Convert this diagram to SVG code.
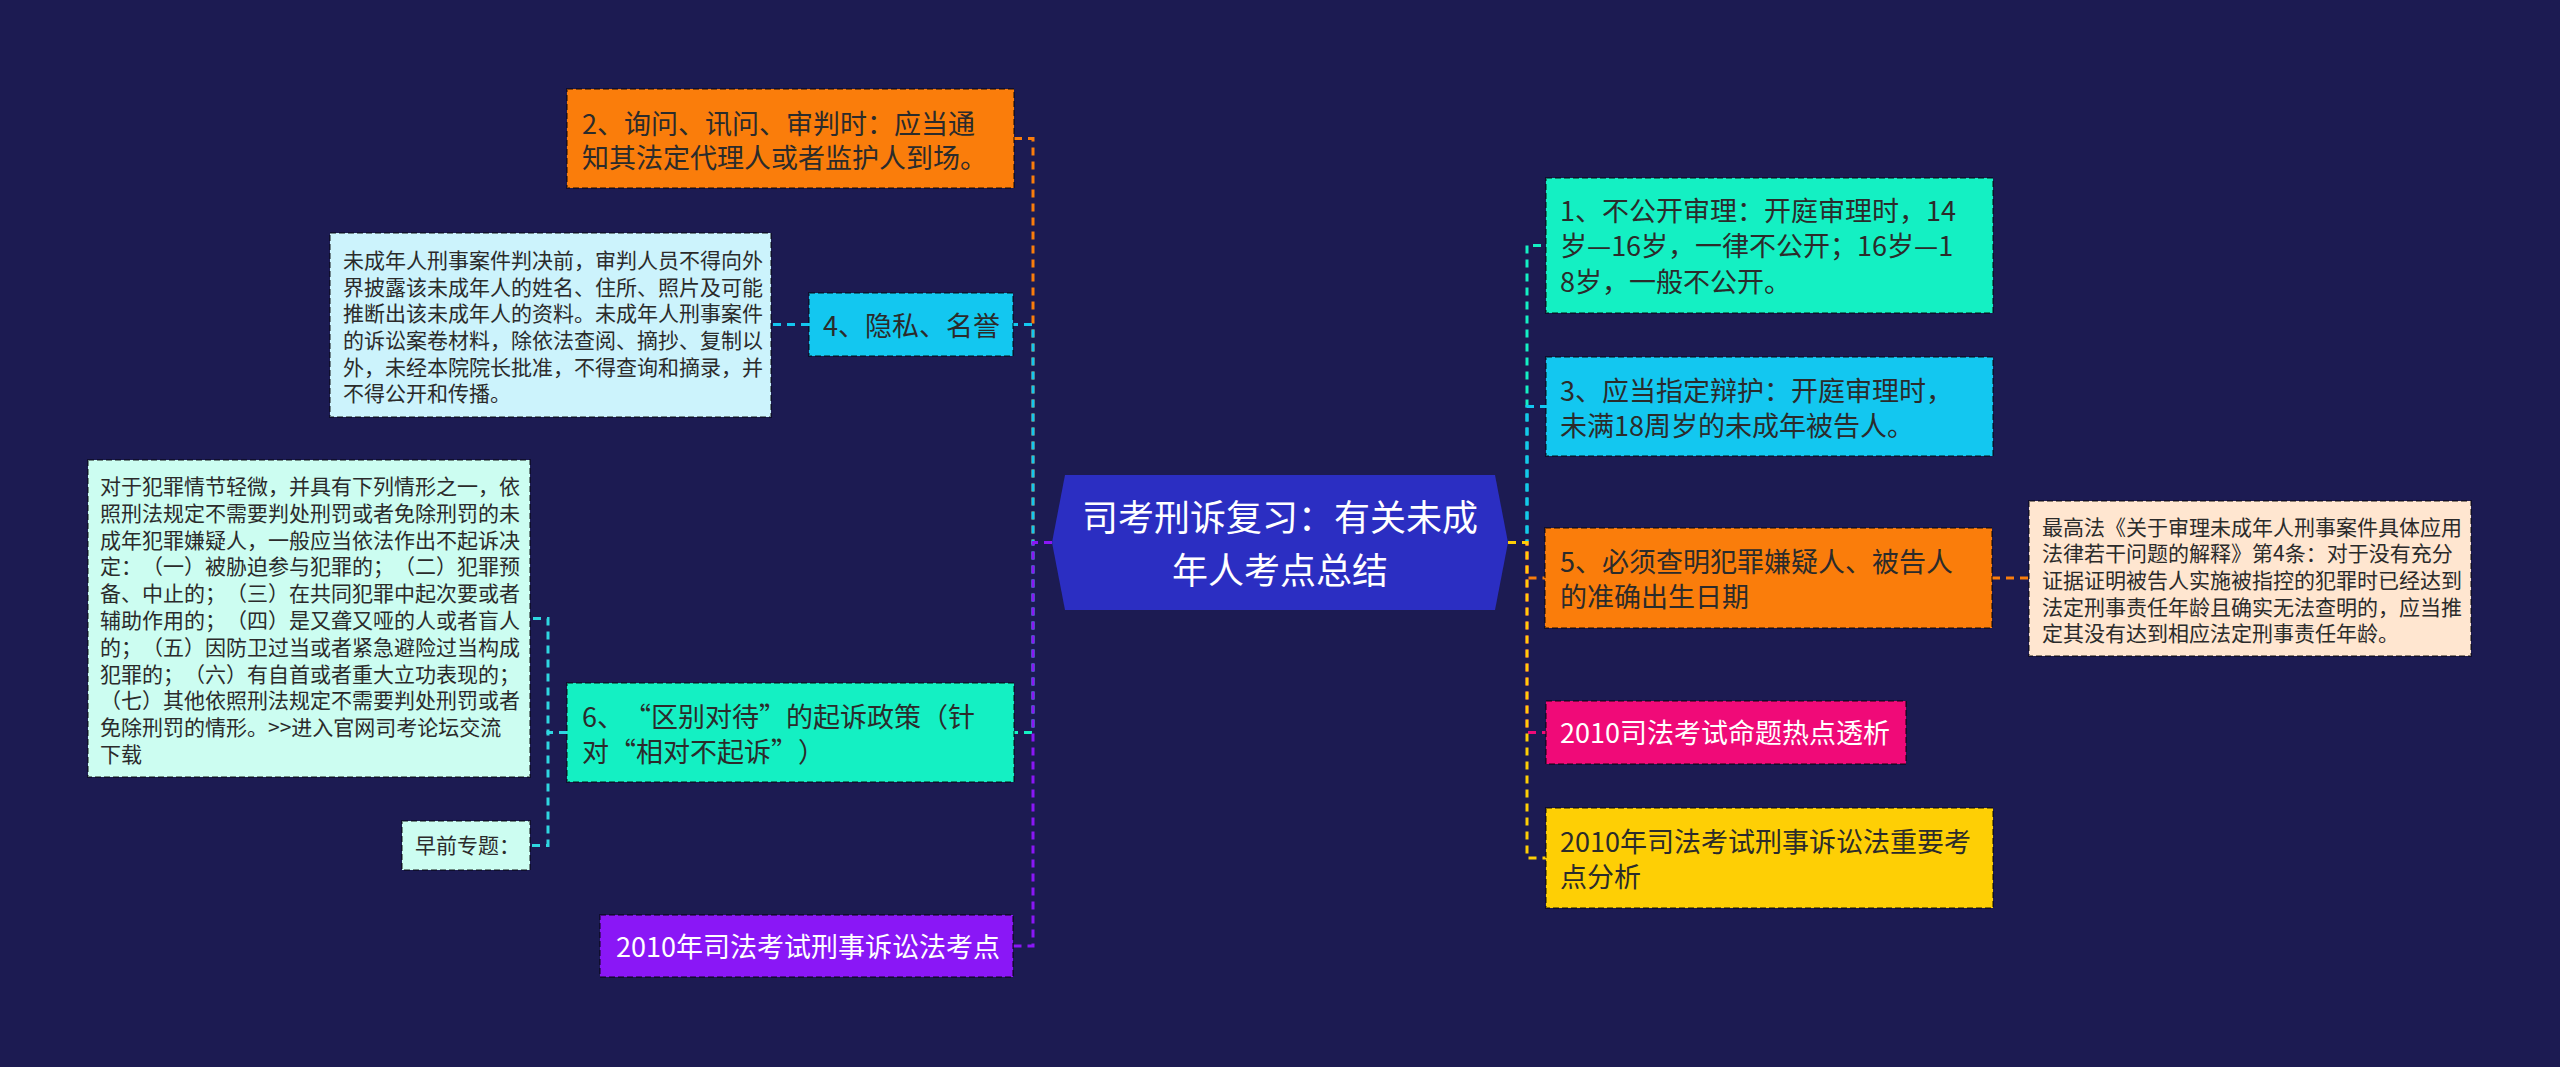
<svg xmlns="http://www.w3.org/2000/svg" width="2560" height="1067" viewBox="0 0 2560 1067">
<style>
text{font-family:"Noto Sans CJK SC","Noto Sans",sans-serif;text-spacing-trim:space-all}
.t27{font-size:27px;fill:#2b2b2b}
.t21{font-size:21px;fill:#2b2b2b}
.w{fill:#ffffff}
.box{stroke:rgba(0,0,0,0.45);stroke-width:2;stroke-dasharray:6 3}
.edge{fill:none;stroke-width:3;stroke-dasharray:8 6}
.orange{fill:#fa7d0b}.cblue{fill:#13c7f0}.aqua{fill:#14f0c3}.purple{fill:#8a17f6}.pink{fill:#f00a78}.yellow{fill:#fecf05}
.lblue{fill:#ccf3fc}.lmint{fill:#ccfdf1}.lpeach{fill:#ffe6d0}
</style>
<rect x="0" y="0" width="2560" height="1067" fill="#1c1b52"/>
<g id="connectors">
<path class="edge" stroke="#fa7d0b" d="M1052,542.5 H1033 V138.5 H1014"/>
<path class="edge" stroke="#13c7f0" d="M1052,542.5 H1033 V324.5 H1013"/>
<path class="edge" stroke="#14f0c3" d="M1052,542.5 H1033 V732.5 H1014"/>
<path class="edge" stroke="#8a17f6" d="M1052,542.5 H1033 V946 H1013"/>
<path class="edge" stroke="#14f0c3" d="M1508,542.5 H1527 V245.5 H1546"/>
<path class="edge" stroke="#13c7f0" d="M1508,542.5 H1527 V406.5 H1546"/>
<path class="edge" stroke="#fa7d0b" d="M1508,542.5 H1527 V578 H1545"/>
<path class="edge" stroke="#f00a78" d="M1508,542.5 H1527 V732.5 H1546"/>
<path class="edge" stroke="#fecf05" d="M1508,542.5 H1527 V858 H1546"/>
<path class="edge" stroke="#13c7f0" d="M809,324.5 H771"/>
<path class="edge" stroke="#2fd6e0" d="M567,732.5 H548 V618.5 H530"/>
<path class="edge" stroke="#2fd6e0" d="M567,732.5 H548 V845.5 H530"/>
<path class="edge" stroke="#fa7d0b" d="M1992,578 H2029"/>
</g>
<g id="root">
<polygon points="1052,542.5 1065,475 1495,475 1508,542.5 1495,610 1065,610" fill="#2b2ec2"/>
<text class="w" font-size="36" text-anchor="middle" x="1280" y="531">司考刑诉复习：有关未成</text>
<text class="w" font-size="36" text-anchor="middle" x="1280" y="584">年人考点总结</text>
</g>
<g id="n2">
<rect class="box orange" x="567" y="89" width="447" height="99"/>
<text class="t27" x="582" y="134">2、询问、讯问、审判时：应当通</text>
<text class="t27" x="582" y="168">知其法定代理人或者监护人到场。</text>
</g>
<g id="n4">
<rect class="box cblue" x="809" y="293" width="204" height="63"/>
<text class="t27" x="823" y="336">4、隐私、名誉</text>
</g>
<g id="d4">
<rect class="box lblue" x="330" y="233" width="441" height="184"/>
<text class="t21" x="343" y="268">未成年人刑事案件判决前，审判人员不得向外</text>
<text class="t21" x="343" y="295">界披露该未成年人的姓名、住所、照片及可能</text>
<text class="t21" x="343" y="321">推断出该未成年人的资料。未成年人刑事案件</text>
<text class="t21" x="343" y="348">的诉讼案卷材料，除依法查阅、摘抄、复制以</text>
<text class="t21" x="343" y="375">外，未经本院院长批准，不得查询和摘录，并</text>
<text class="t21" x="343" y="401">不得公开和传播。</text>
</g>
<g id="n6">
<rect class="box aqua" x="567" y="683" width="447" height="99"/>
<text class="t27" x="582" y="727">6、“区别对待”的起诉政策（针</text>
<text class="t27" x="582" y="762">对“相对不起诉”）</text>
</g>
<g id="d6a">
<rect class="box lmint" x="88" y="460" width="442" height="317"/>
<text class="t21" x="100" y="494">对于犯罪情节轻微，并具有下列情形之一，依</text>
<text class="t21" x="100" y="521">照刑法规定不需要判处刑罚或者免除刑罚的未</text>
<text class="t21" x="100" y="548">成年犯罪嫌疑人，一般应当依法作出不起诉决</text>
<text class="t21" x="100" y="574">定：（一）被胁迫参与犯罪的；（二）犯罪预</text>
<text class="t21" x="100" y="601">备、中止的；（三）在共同犯罪中起次要或者</text>
<text class="t21" x="100" y="628">辅助作用的；（四）是又聋又哑的人或者盲人</text>
<text class="t21" x="100" y="655">的；（五）因防卫过当或者紧急避险过当构成</text>
<text class="t21" x="100" y="682">犯罪的；（六）有自首或者重大立功表现的；</text>
<text class="t21" x="100" y="708">（七）其他依照刑法规定不需要判处刑罚或者</text>
<text class="t21" x="100" y="735">免除刑罚的情形。&gt;&gt;进入官网司考论坛交流</text>
<text class="t21" x="100" y="762">下载</text>
</g>
<g id="d6b">
<rect class="box lmint" x="402" y="821" width="128" height="49"/>
<text class="t21" x="415" y="853">早前专题：</text>
</g>
<g id="n7">
<rect class="box purple" x="600" y="915" width="413" height="62"/>
<text class="t27 w" x="616" y="957">2010年司法考试刑事诉讼法考点</text>
</g>
<g id="n1">
<rect class="box aqua" x="1546" y="178" width="447" height="135"/>
<text class="t27" x="1560" y="221">1、不公开审理：开庭审理时，14</text>
<text class="t27" x="1560" y="256">岁—16岁，一律不公开；16岁—1</text>
<text class="t27" x="1560" y="292">8岁，一般不公开。</text>
</g>
<g id="n3">
<rect class="box cblue" x="1546" y="357" width="447" height="99"/>
<text class="t27" x="1560" y="401">3、应当指定辩护：开庭审理时，</text>
<text class="t27" x="1560" y="436">未满18周岁的未成年被告人。</text>
</g>
<g id="n5">
<rect class="box orange" x="1545" y="528" width="447" height="100"/>
<text class="t27" x="1560" y="572">5、必须查明犯罪嫌疑人、被告人</text>
<text class="t27" x="1560" y="607">的准确出生日期</text>
</g>
<g id="d5">
<rect class="box lpeach" x="2029" y="501" width="442" height="155"/>
<text class="t21" x="2042" y="535">最高法《关于审理未成年人刑事案件具体应用</text>
<text class="t21" x="2042" y="561">法律若干问题的解释》第4条：对于没有充分</text>
<text class="t21" x="2042" y="588">证据证明被告人实施被指控的犯罪时已经达到</text>
<text class="t21" x="2042" y="615">法定刑事责任年龄且确实无法查明的，应当推</text>
<text class="t21" x="2042" y="641">定其没有达到相应法定刑事责任年龄。</text>
</g>
<g id="n8">
<rect class="box pink" x="1546" y="701" width="360" height="63"/>
<text class="t27 w" x="1560" y="743">2010司法考试命题热点透析</text>
</g>
<g id="n9">
<rect class="box yellow" x="1546" y="808" width="447" height="100"/>
<text class="t27" x="1560" y="852">2010年司法考试刑事诉讼法重要考</text>
<text class="t27" x="1560" y="887">点分析</text>
</g>
</svg>
